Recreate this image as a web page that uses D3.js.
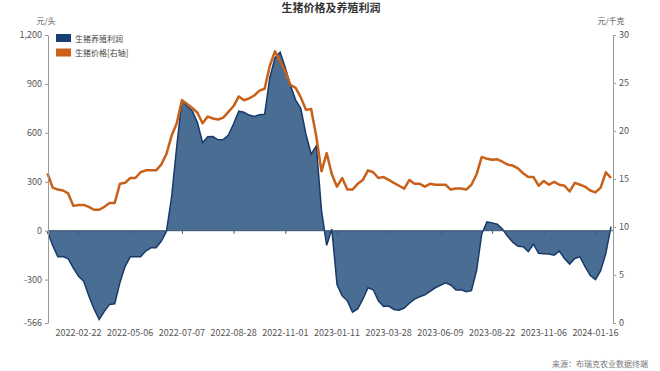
<!DOCTYPE html>
<html>
<head>
<meta charset="utf-8">
<script src="https://cdn.jsdelivr.net/npm/d3@7"></script>
<style>
  body { margin: 0; background: #fff; }
  svg text { font-family: "Noto Sans CJK SC", "Noto Sans", sans-serif; }
</style>
</head>
<body>
<div id="chart"></div>
<script>
// series (one point per ~5px of the x axis)
var profit = [
  -5, -90, -160, -158, -172, -230, -280, -310, -400, -480,
  -545, -495, -452, -448, -320, -220, -160, -160, -160, -125,
  -105, -105, -65, -5, 205, 518, 800, 765, 735, 663,
  540, 576, 577, 557, 559, 586, 656, 733, 726, 709,
  700, 711, 714, 938, 1060, 1095, 1000, 890, 801, 750,
  590, 470, 520, 124, -90, 10, -330, -400, -430, -500,
  -480, -420, -350, -362, -430, -465, -462, -483, -487, -474,
  -445, -420, -405, -394, -372, -350, -335, -320, -333, -363,
  -362, -374, -368, -245, -20, 54, 48, 40, 10, -35,
  -70, -96, -98, -128, -83, -139, -141, -143, -150, -125,
  -170, -205, -170, -160, -222, -275, -300, -245, -140, 25
];

var price = [
  15.6, 14.1, 13.9, 13.8, 13.5, 12.2, 12.3, 12.3, 12.1, 11.8,
  11.8, 12.1, 12.5, 12.5, 14.5, 14.6, 15.1, 15.1, 15.7, 15.9,
  15.9, 15.9, 16.5, 17.6, 19.5, 20.8, 23.2, 22.8, 22.4, 21.9,
  20.8, 21.5, 21.3, 21.2, 21.4, 22.0, 22.6, 23.6, 23.2, 23.4,
  23.7, 24.2, 24.4, 26.8, 28.3, 27.3, 26.2, 24.8, 24.5, 23.5,
  22.2, 22.3, 19.4, 15.8, 17.7, 15.5, 14.2, 15.1, 13.9, 13.9,
  14.5, 14.9, 15.9, 15.7, 15.1, 15.2, 14.9, 14.6, 14.3, 14.0,
  14.9, 14.5, 14.5, 14.2, 14.5, 14.4, 14.4, 14.4, 13.9, 14.0,
  14.0, 13.9, 14.4, 15.5, 17.3, 17.1, 17.0, 17.05, 16.8, 16.5,
  16.4, 16.1, 15.6, 15.2, 15.2, 14.3, 14.8, 14.4, 14.7, 14.4,
  14.3, 13.7, 14.6, 14.4, 14.2, 13.8, 13.6, 14.1, 15.7, 15.1
];

var xTickLabels = ["2022-02-22", "2022-05-06", "2022-07-07", "2022-08-28", "2022-11-01",
  "2023-01-11", "2023-03-28", "2023-06-09", "2023-08-22", "2023-11-06", "2024-01-16"];
var leftTicks = [1200, 900, 600, 300, 0, -300, -566];
var rightTicks = [30, 25, 20, 15, 10, 5, 0];

var W = 660, H = 371;
var plot = { left: 48, right: 613, top: 35, bottom: 323 };
var firstTick = 6, tickStep = 10;

var svg = d3.select("#chart").append("svg")
  .attr("width", W)
  .attr("height", H);

var x = d3.scaleLinear().domain([0, profit.length - 1]).range([47.5, 611]);
var y = d3.scaleLinear().domain([-566, 1200]).range([plot.bottom, plot.top]);
var y2 = d3.scaleLinear().domain([0, 30]).range([plot.bottom, plot.top]);

// profit area
var area = d3.area()
  .x(function(d, i) { return x(i); })
  .y0(y(0))
  .y1(function(d) { return y(d); });

svg.append("path")
  .datum(profit)
  .attr("d", area)
  .style("fill", "#4a6d94");

svg.append("path")
  .datum(profit)
  .attr("d", d3.line().x(function(d, i) { return x(i); }).y(function(d) { return y(d); }))
  .style("fill", "none")
  .style("stroke", "#173a68")
  .style("stroke-width", 1.5);

// x axis on the zero line
var tickIdx = xTickLabels.map(function(d, i) { return firstTick + i * tickStep; });
var xAxis = svg.append("g")
  .attr("transform", "translate(0," + y(0) + ")")
  .call(d3.axisBottom(x).tickValues(tickIdx).tickFormat("").tickSizeInner(3).tickSizeOuter(0));
xAxis.select(".domain").attr("d", "M" + plot.left + ",0H" + plot.right).style("stroke", "#3d5574");
xAxis.selectAll(".tick line").style("stroke", "#3d5574");

svg.append("g").selectAll("text")
  .data(xTickLabels)
  .enter().append("text")
  .attr("x", function(d, i) { return x(tickIdx[i]); })
  .attr("y", plot.bottom + 13)
  .attr("text-anchor", "middle")
  .style("font-size", "9px")
  .style("fill", "#555")
  .text(function(d) { return d; });

// price line
svg.append("path")
  .datum(price)
  .attr("d", d3.line().x(function(d, i) { return x(i); }).y(function(d) { return y2(d); }))
  .style("fill", "none")
  .style("stroke", "#c8601a")
  .style("stroke-width", 2.5)
  .style("stroke-linejoin", "round");

// left axis
var yAxis = svg.append("g")
  .attr("transform", "translate(" + plot.left + ",0)")
  .call(d3.axisLeft(y).tickValues(leftTicks).tickSizeInner(3).tickSizeOuter(0)
    .tickFormat(function(d) { return d == 1200 ? "1,200" : d; }));
yAxis.select(".domain").style("stroke", "#999");
yAxis.selectAll(".tick line").style("stroke", "#999");
yAxis.selectAll("text").style("font-size", "9px").style("fill", "#555")
  .style("font-family", "'Noto Sans CJK SC', 'Noto Sans', sans-serif");

// right axis
var yAxis2 = svg.append("g")
  .attr("transform", "translate(" + plot.right + ",0)")
  .call(d3.axisRight(y2).tickValues(rightTicks).tickSizeInner(3).tickSizeOuter(0));
yAxis2.select(".domain").style("stroke", "#999");
yAxis2.selectAll(".tick line").style("stroke", "#999");
yAxis2.selectAll("text").style("font-size", "9px").style("fill", "#555")
  .style("font-family", "'Noto Sans CJK SC', 'Noto Sans', sans-serif");

// unit labels
svg.append("text").attr("x", 46).attr("y", 24).attr("text-anchor", "middle")
  .style("font-size", "8px").style("fill", "#555").text("元/头");
svg.append("text").attr("x", 611).attr("y", 24).attr("text-anchor", "middle")
  .style("font-size", "8px").style("fill", "#555").text("元/千克");

// title
svg.append("text").attr("x", 331).attr("y", 12).attr("text-anchor", "middle")
  .style("font-size", "11px").style("font-weight", "bold").style("fill", "#333")
  .text("生猪价格及养殖利润");

// legend
var legend = [
  { name: "生猪养殖利润", color: "#173f72" },
  { name: "生猪价格[右轴]", color: "#cc611b" }
];
var lg = svg.append("g").selectAll("g")
  .data(legend)
  .enter().append("g")
  .attr("transform", function(d, i) { return "translate(56," + (34 + i * 14.5) + ")"; });
lg.append("rect").attr("width", 15).attr("height", 8).style("fill", function(d) { return d.color; });
lg.append("text").attr("x", 19).attr("y", 7.5)
  .style("font-size", "8px").style("fill", "#444")
  .text(function(d) { return d.name; });

// source
svg.append("text").attr("x", 648).attr("y", 367).attr("text-anchor", "end")
  .style("font-size", "8px").style("fill", "#777")
  .text("来源：布瑞克农业数据终端");
</script>
</body>
</html>
